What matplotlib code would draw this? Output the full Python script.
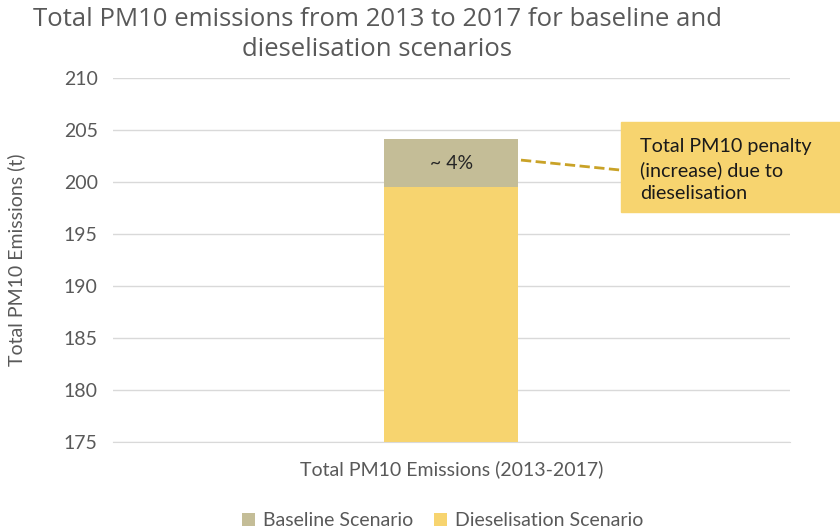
import numpy as np
import matplotlib.pyplot as plt
import matplotlib as mpl
from matplotlib.patches import Rectangle

mpl.rcParams.update({'font.family': ['Lato', 'DejaVu Sans']})

categories = ['Total PM10 Emissions (2013-2017)']
baseline = [204.1]
dieselisation = [199.5]
series_names = ['Baseline Scenario', 'Dieselisation Scenario']

c_base = '#C4BD97'
c_diesel = '#F7D46F'
grey = '#595959'

fig = plt.figure(figsize=(8.4, 5.3), dpi=100)
ax = fig.add_axes([0.1345, 0.166, 0.8055, 0.687])

x = np.arange(len(categories))
ax.bar(x, baseline, width=0.198, color=c_base, label=series_names[0], zorder=2)
ax.bar(x, dieselisation, width=0.198, color=c_diesel, label=series_names[1], zorder=3)

ax.set_ylim(175, 210)
ax.set_xlim(-0.5, 0.5)
ax.set_yticks(np.arange(175, 211, 5))
ax.set_xticks(x)
ax.set_xticklabels(categories)
ax.yaxis.grid(True, color='#D9D9D9', lw=1)
ax.set_axisbelow(True)
for s in ['top', 'right', 'left']:
    ax.spines[s].set_visible(False)
ax.spines['bottom'].set_color('#D9D9D9')
ax.tick_params(axis='y', length=0, labelsize=14, labelcolor=grey, pad=11)
ax.tick_params(axis='x', length=0, labelsize=14, labelcolor=grey, pad=13)
ax.set_ylabel('Total PM10 Emissions (t)', fontsize=14, color=grey)
ax.yaxis.set_label_coords(-0.13, 0.5)

# percentage label on the top segment
ax.text(0, (baseline[0] + dieselisation[0]) / 2, '~ 4%', ha='center', va='center',
        fontsize=14, color='#262626', zorder=4)

# callout
ax.plot([0.103, 0.249], [202.1, 201.15], ls='--', color='#C9A227', lw=2, zorder=4)
fig.patches.append(Rectangle((621 / 840, 1 - 212 / 530), 0.3, 90 / 530,
                             transform=fig.transFigure, color=c_diesel, zorder=5))
fig.text(640 / 840, 1 - 170 / 530, 'Total PM10 penalty\n(increase) due to\ndieselisation',
         ha='left', va='center', fontsize=14.2, color='#1a1a1a', linespacing=1.45, zorder=6)

fig.text(0.449, 0.987, 'Total PM10 emissions from 2013 to 2017 for baseline and\ndieselisation scenarios',
         ha='center', va='top', fontsize=18.5, color=grey, linespacing=1.25,
         family=['Open Sans', 'DejaVu Sans'])

fig.legend(loc='lower center', bbox_to_anchor=(0.527, -0.032), ncol=2, frameon=False,
           fontsize=14, labelcolor=grey, handlelength=0.65, handleheight=0.65,
           columnspacing=1.1, handletextpad=0.4)

fig.savefig('out.png', dpi=100)
